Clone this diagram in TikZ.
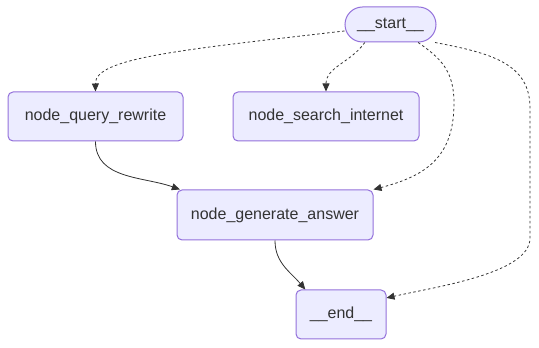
\documentclass[tikz,border=0pt]{standalone}
\usepackage{fontspec}
\setmainfont{Liberation Sans}
\usetikzlibrary{arrows.meta, positioning}
\definecolor{nodeFill}{HTML}{ECECFF}
\definecolor{nodeLine}{HTML}{9370DB}
\definecolor{edgeGrey}{HTML}{333333}

\begin{document}
\begin{tikzpicture}[
    x=1pt, y=1pt,
    box/.style={rectangle, draw=nodeLine, fill=nodeFill, rounded corners=5pt, line width=1pt, minimum height=49pt, text=edgeGrey, font=\fontsize{16}{19}\selectfont},
    terminal/.style={box, rounded corners=17.5pt, minimum height=35pt, minimum width=91pt},
    arrow/.style={-{Triangle[length=8pt, width=7pt]}, draw=edgeGrey, line width=0.8pt},
    optional/.style={arrow, dash pattern=on 2.5pt off 2.5pt}
]
\useasboundingbox (0,0) rectangle (539,348);

\node[terminal] (start) at (390.5,323.5) {\_\_start\_\_};
\node[box, minimum width=175pt] (rewrite) at (95.5,231.5) {node\_query\_rewrite};
\node[box, minimum width=186pt] (search) at (326,231.5) {node\_search\_internet};
\node[box, minimum width=196pt, minimum height=50pt] (generate) at (275,133) {node\_generate\_answer};
\node[box, minimum width=90pt] (finish) at (341,33.5) {\_\_end\_\_};

% conditional routes out of start
\draw[optional] (start.188) .. controls (180,298) and (95,290) .. (rewrite.north);
\draw[optional] (start.-145) to[out=235, in=90] (search.north);
\draw[optional] (start.-33) .. controls (440,290) and (454,278) .. (454,245)
    .. controls (454,190) and (425,172) .. (generate.north east);
\draw[optional] (start.-22) .. controls (490,295) and (530,285) .. (530,240)
    -- (530,110) .. controls (530,75) and (440,62) .. (finish.20);

% fixed routes
\draw[arrow] (rewrite.south) to[out=-90, in=160] (generate.165);
\draw[arrow] (generate.south) to[out=-90, in=130] (finish.145);
\end{tikzpicture}
\end{document}
